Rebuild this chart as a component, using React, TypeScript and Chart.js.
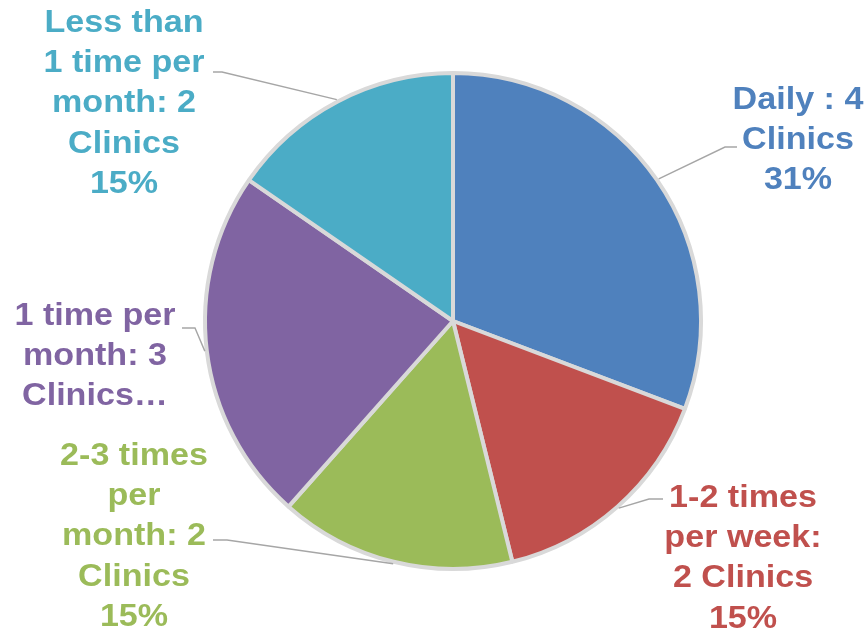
import React, { useEffect, useRef } from "react";
import { Chart, registerables } from "chart.js";

Chart.register(...registerables);

const categories = [
  "Daily",
  "1-2 times per week",
  "2-3 times per month",
  "1 time per month",
  "Less than 1 time per month",
];
const clinicCounts = [4, 2, 2, 3, 2];
const sliceColors = ["#4F81BD", "#C0504D", "#9BBB59", "#8064A2", "#4BACC6"];
const labelLines = [
  ["Daily : 4", "Clinics", "31%"],
  ["1-2 times", "per week:", "2 Clinics", "15%"],
  ["2-3 times", "per", "month: 2", "Clinics", "15%"],
  ["1 time per", "month: 3", "Clinics…"],
  ["Less than", "1 time per", "month: 2", "Clinics", "15%"],
];
// label layout relative to pie centre: text centre x, first line y, leader end x/y, bend x
const labelLayout = [
  { dx: 345, dy: -221, lx: 284, ly: -174, bx: 272 },
  { dx: 290, dy: 177, lx: 210, ly: 178, bx: 196 },
  { dx: -319, dy: 135, lx: -240, ly: 219, bx: -226 },
  { dx: -358, dy: -5, lx: -271, ly: 7, bx: -258 },
  { dx: -329, dy: -298, lx: -240, ly: -249, bx: -231 },
];

const LINE_H = 40.4;
const FONT = 'bold 31px "Liberation Sans", Arial, sans-serif';
const STRETCH = 1.1;

const labelPlugin = {
  id: "outsideLabels",
  afterDatasetsDraw(chart: any) {
    const ctx = chart.ctx as CanvasRenderingContext2D;
    const meta = chart.getDatasetMeta(0);
    meta.data.forEach((arc: any, i: number) => {
      const { x, y, startAngle, endAngle, outerRadius } = arc.getProps(
        ["x", "y", "startAngle", "endAngle", "outerRadius"],
        true
      );
      const mid = (startAngle + endAngle) / 2;
      const r = outerRadius + 2;
      const px = x + Math.cos(mid) * r;
      const py = y + Math.sin(mid) * r;
      const L = labelLayout[i];
      ctx.save();
      ctx.strokeStyle = "#A6A6A6";
      ctx.lineWidth = 1.4;
      ctx.beginPath();
      ctx.moveTo(x + L.lx, y + L.ly);
      ctx.lineTo(x + L.bx, y + L.ly);
      ctx.lineTo(px, py);
      ctx.stroke();
      ctx.fillStyle = sliceColors[i];
      ctx.font = FONT;
      ctx.textAlign = "center";
      ctx.textBaseline = "middle";
      labelLines[i].forEach((line, j) => {
        ctx.save();
        ctx.translate(x + L.dx, y + L.dy + j * LINE_H);
        ctx.scale(STRETCH, 1);
        ctx.fillText(line, 0, 0);
        ctx.restore();
      });
      ctx.restore();
    });
  },
};

export default function App() {
  const canvasRef = useRef<HTMLCanvasElement | null>(null);
  useEffect(() => {
    if (!canvasRef.current) return;
    const chart = new Chart(canvasRef.current, {
      type: "pie",
      data: {
        labels: categories,
        datasets: [
          {
            data: clinicCounts,
            backgroundColor: sliceColors,
            borderColor: "#D9D9D9",
            borderWidth: 4,
          },
        ],
      },
      options: {
        responsive: false,
        animation: false,
        layout: { padding: { left: 203, right: 165, top: 71, bottom: 60 } },
        plugins: {
          legend: { display: false },
          tooltip: { enabled: false },
        },
      },
      plugins: [labelPlugin],
    });
    return () => chart.destroy();
  }, []);
  return (
    <div style={{ position: "fixed", left: 0, top: 0, width: 868, height: 631, background: "#fff" }}>
      <canvas ref={canvasRef} width={868} height={631} style={{ display: "block" }} />
    </div>
  );
}
